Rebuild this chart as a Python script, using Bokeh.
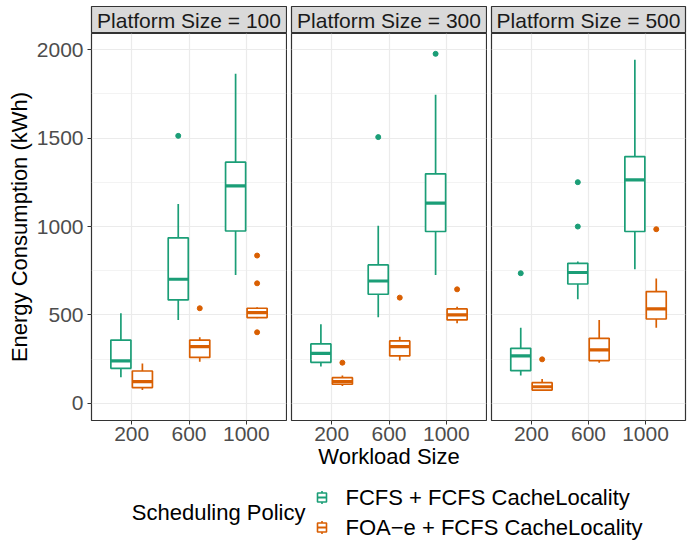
from bokeh.plotting import figure
from bokeh.models import (ColumnDataSource, FactorRange, Range1d, FixedTicker,
                          Grid, Label, LinearAxis, CategoricalAxis, CategoricalTicker)
from bokeh.transform import dodge
from bokeh.layouts import row, column
from bokeh.embed import file_html
from bokeh.resources import INLINE

# ---------------- data ----------------
platform_sizes = [100, 300, 500]
workloads = ["200", "600", "1000"]
policies = ["FCFS + FCFS CacheLocality", "FOA\u2212e + FCFS CacheLocality"]
policy_colors = ["#1B9E77", "#D95F02"]

# rows: platform size (100, 300, 500); columns: workload size (200, 600, 1000)
fcfs_lower = [[147, 472, 726], [208, 487, 726], [157, 589, 758]]
fcfs_q1 = [[198, 585, 975], [232, 617, 972], [185, 675, 972]]
fcfs_median = [[240, 702, 1230], [283, 692, 1132], [268, 740, 1264]]
fcfs_q3 = [[358, 936, 1364], [336, 783, 1298], [311, 792, 1396]]
fcfs_upper = [[509, 1128, 1864], [447, 1004, 1745], [428, 802, 1943]]

foa_lower = [[75, 236, 481], [98, 242, 453], [75, 230, 428]]
foa_q1 = [[89, 260, 485], [108, 268, 472], [75, 242, 477]]
foa_median = [[123, 321, 513], [123, 321, 500], [94, 302, 534]]
foa_q3 = [[183, 358, 538], [145, 353, 534], [117, 368, 632]]
foa_upper = [[226, 374, 543], [157, 377, 547], [138, 472, 706]]

outlier_platform = [100, 100, 100, 100, 100, 300, 300, 300, 300, 300, 500, 500, 500, 500, 500]
outlier_workload = ["600", "600", "1000", "1000", "1000", "600", "1000", "200", "600", "1000",
                    "200", "600", "600", "200", "1000"]
outlier_policy = [0, 1, 1, 1, 1, 0, 0, 1, 1, 1, 0, 0, 0, 1, 1]
outlier_value = [1513, 538, 836, 679, 402, 1506, 1977, 230, 598, 645, 736, 1251, 1000, 249, 985]

y_ticks = [0, 500, 1000, 1500, 2000]
y_minor_ticks = [250, 750, 1250, 1750]
y_start, y_end = -97, 2092

# ---------------- style / layout ----------------
FONT = "Liberation Sans"
TICK_FONT = "21px"
TITLE_FONT = "22px"
STRIP_FONT = "21px"
GRID = "#EBEBEB"
DARK = "#333333"

frame_ws = [195, 195, 194]
lefts = [91, 4, 4]
rights = [1, 1, 2]
frame_h = 387
strip_top = 6
strip_h = 27
axis_h = 56
bottom_h = 65
total_w = sum(frame_ws) + sum(lefts) + sum(rights)
dodge_w = 0.1875
box_w = 0.35

stat_sets = [
    (fcfs_lower, fcfs_q1, fcfs_median, fcfs_q3, fcfs_upper),
    (foa_lower, foa_q1, foa_median, foa_q3, foa_upper),
]
offsets = [-dodge_w, dodge_w]


def drop_grids(fig):
    fig.center = [r for r in fig.center if not isinstance(r, Grid)]


def make_panel(pi):
    lb, rb, fw = lefts[pi], rights[pi], frame_ws[pi]
    xr = FactorRange(factors=workloads, range_padding=0.2, range_padding_units="absolute")
    p = figure(width=lb + fw + rb, height=frame_h + axis_h,
               x_range=xr, y_range=Range1d(y_start, y_end),
               x_axis_location=None, y_axis_location=None,
               output_backend="svg", toolbar_location=None,
               min_border_left=lb, min_border_right=rb,
               min_border_top=0, min_border_bottom=axis_h)
    drop_grids(p)
    p.outline_line_color = DARK
    p.outline_line_width = 1.2
    p.background_fill_color = "white"
    p.border_fill_color = "white"

    yt = FixedTicker(ticks=y_ticks, minor_ticks=y_minor_ticks)
    p.add_layout(Grid(dimension=1, ticker=yt, grid_line_color=GRID, grid_line_width=1.2,
                      minor_grid_line_color=GRID, minor_grid_line_width=0.6))
    p.add_layout(Grid(dimension=0, ticker=CategoricalTicker(), grid_line_color=GRID,
                      grid_line_width=1.2))

    xa = CategoricalAxis()
    xa.axis_line_color = None
    xa.major_tick_line_color = DARK
    xa.major_tick_out = 4
    xa.major_tick_in = 0
    xa.minor_tick_line_color = None
    xa.major_label_standoff = 2
    xa.major_label_text_font = FONT
    xa.major_label_text_font_size = TICK_FONT
    xa.major_label_text_color = "#4D4D4D"
    if pi == 1:
        xa.axis_label = "Workload Size"
        xa.axis_label_text_font = FONT
        xa.axis_label_text_font_size = TITLE_FONT
        xa.axis_label_text_font_style = "normal"
        xa.axis_label_text_color = "black"
        xa.axis_label_standoff = 0
    p.add_layout(xa, "below")

    if pi == 0:
        ya = LinearAxis(ticker=FixedTicker(ticks=y_ticks))
        ya.axis_line_color = None
        ya.major_tick_line_color = DARK
        ya.major_tick_out = 4
        ya.major_tick_in = 0
        ya.minor_tick_line_color = None
        ya.major_label_standoff = 4
        ya.major_label_text_font = FONT
        ya.major_label_text_font_size = TICK_FONT
        ya.major_label_text_color = "#4D4D4D"
        ya.axis_label = "Energy Consumption (kWh)"
        ya.axis_label_text_font = FONT
        ya.axis_label_text_font_size = TITLE_FONT
        ya.axis_label_text_font_style = "normal"
        ya.axis_label_text_color = "black"
        ya.axis_label_standoff = 2
        p.add_layout(ya, "left")

    for k, (lo, q1, md, q3, up) in enumerate(stat_sets):
        src = ColumnDataSource(dict(workload=workloads, lower=lo[pi], q1=q1[pi],
                                    median=md[pi], q3=q3[pi], upper=up[pi]))
        c = policy_colors[k]
        off = offsets[k]
        xc = dodge("workload", off, range=xr)
        p.segment(x0=xc, y0="lower", x1=xc, y1="upper", source=src,
                  line_color=c, line_width=1.7)
        p.vbar(x=xc, width=box_w, top="q3", bottom="q1", source=src,
               fill_color="white", line_color=c, line_width=1.7)
        p.segment(x0=dodge("workload", off - box_w / 2, range=xr), y0="median",
                  x1=dodge("workload", off + box_w / 2, range=xr), y1="median",
                  source=src, line_color=c, line_width=3.2)

        size = platform_sizes[pi]
        ow = [w for s, w, pol in zip(outlier_platform, outlier_workload, outlier_policy)
              if s == size and pol == k]
        ov = [v for s, v, pol in zip(outlier_platform, outlier_value, outlier_policy)
              if s == size and pol == k]
        osrc = ColumnDataSource(dict(workload=ow, value=ov))
        p.scatter(x=xc, y="value", source=osrc, size=5, fill_color=c, line_color=c)
    return p


def make_strip(pi):
    lb, rb, fw = lefts[pi], rights[pi], frame_ws[pi]
    s = figure(width=lb + fw + rb, height=strip_top + strip_h,
               x_range=Range1d(0, 1), y_range=Range1d(0, 1),
               x_axis_location=None, y_axis_location=None,
               output_backend="svg", toolbar_location=None,
               min_border_left=lb, min_border_right=rb,
               min_border_top=strip_top, min_border_bottom=0)
    drop_grids(s)
    s.background_fill_color = "#D9D9D9"
    s.border_fill_color = "white"
    s.outline_line_color = DARK
    s.outline_line_width = 1.2
    s.add_layout(Label(x=0.5, y=0.5, text=f"Platform Size = {platform_sizes[pi]}",
                       text_align="center", text_baseline="middle",
                       text_font=FONT, text_font_size=STRIP_FONT, text_color="#1A1A1A"))
    return s


strips = [make_strip(i) for i in range(len(platform_sizes))]
panels = [make_panel(i) for i in range(len(platform_sizes))]

# ---------------- bottom: legend ----------------
b = figure(width=total_w, height=bottom_h,
           x_range=Range1d(0, total_w), y_range=Range1d(0, bottom_h),
           x_axis_location=None, y_axis_location=None,
           output_backend="svg", toolbar_location=None,
           min_border_left=0, min_border_right=0, min_border_top=0, min_border_bottom=0)
drop_grids(b)
b.outline_line_color = None
b.background_fill_color = "white"
b.border_fill_color = "white"

legend_rows = [44, 14]
key_x = 321.5
label_x = 345
b.add_layout(Label(x=305, y=(legend_rows[0] + legend_rows[1]) / 2, text="Scheduling Policy",
                   text_align="right", text_baseline="middle", text_font=FONT,
                   text_font_size=TITLE_FONT, text_color="black"))
for k, name in enumerate(policies):
    ly = legend_rows[k]
    c = policy_colors[k]
    b.segment(x0=[key_x], y0=[ly - 6.5], x1=[key_x], y1=[ly + 6.5], line_color=c, line_width=1.6)
    b.rect(x=[key_x], y=[ly], width=9, height=9, fill_color="white", line_color=c, line_width=1.6)
    b.segment(x0=[key_x - 4.5], y0=[ly], x1=[key_x + 4.5], y1=[ly], line_color=c, line_width=2)
    b.add_layout(Label(x=label_x, y=ly, text=name, text_align="left", text_baseline="middle",
                       text_font=FONT, text_font_size=TITLE_FONT, text_color="black"))

layout = column(row(*strips), row(*panels), b)

open("out.html", "w").write(file_html(layout, INLINE))
